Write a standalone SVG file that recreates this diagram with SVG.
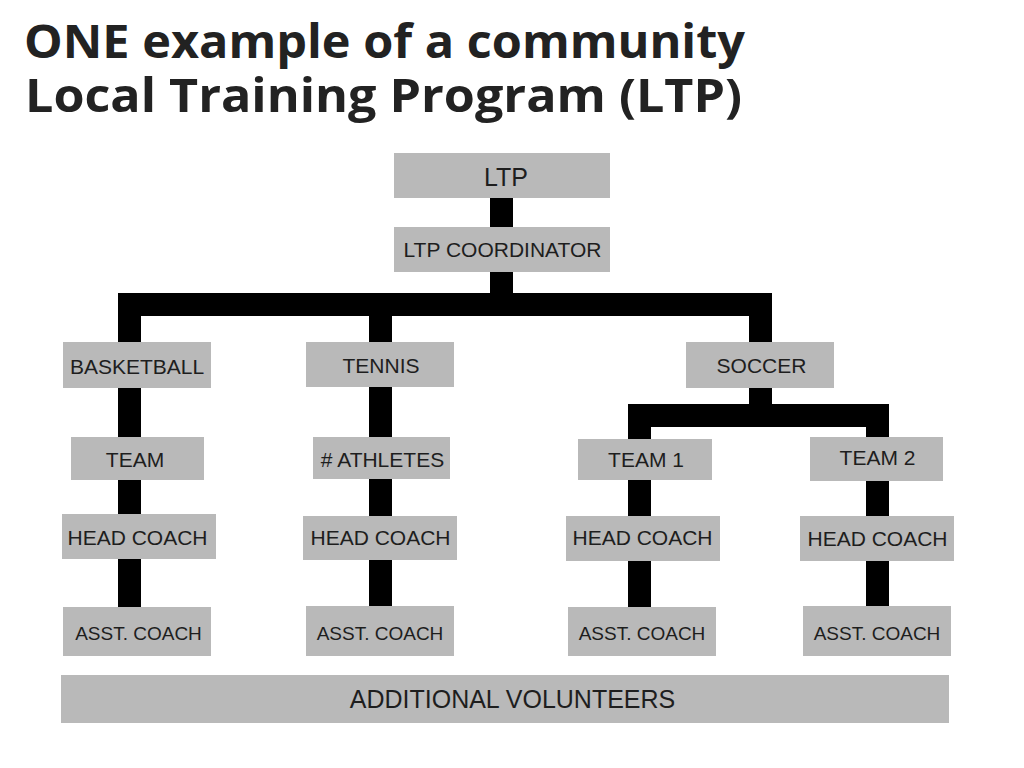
<svg xmlns="http://www.w3.org/2000/svg" width="1024" height="768" viewBox="0 0 1024 768">
<style>
.bg{fill:#ffffff}
.title{font-family:"Open Sans","Liberation Sans",sans-serif;font-weight:700;font-size:47px;fill:#222222}
.box{fill:#b9b9b9}
.lbl{font-family:"Liberation Sans",Arial,sans-serif;font-size:21px;fill:#1e1e1e;text-anchor:middle}
.sm{font-size:19px}
.big{font-size:25px}
.conn{fill:none;stroke:#000000;stroke-width:23;stroke-linejoin:miter;stroke-linecap:butt}
</style>
<rect class="bg" x="0" y="0" width="1024" height="768"/>
<g id="title">
<text class="title" x="24" y="58" textLength="721" lengthAdjust="spacingAndGlyphs">ONE example of a community</text>
<text class="title" x="25" y="112" textLength="717" lengthAdjust="spacingAndGlyphs">Local Training Program (LTP)</text>
</g>
<g id="connectors">
<path class="conn" d="M501.5,198 V304.5"/>
<path class="conn" d="M129.5,607 V304.5 H760.5 V416"/>
<path class="conn" d="M380.5,304.5 V606"/>
<path class="conn" d="M639.5,607 V415.5 H877.5 V606"/>
</g>
<g id="n-ltp"><rect class="box" x="394" y="153" width="216" height="45"/><text class="lbl big" x="506" y="186">LTP</text></g>
<g id="n-coord"><rect class="box" x="394" y="227" width="216" height="45"/><text class="lbl" x="502.5" y="257" font-size="19.5">LTP COORDINATOR</text></g>
<g id="n-basketball"><rect class="box" x="63" y="342" width="148" height="46"/><text class="lbl" x="137" y="374">BASKETBALL</text></g>
<g id="n-tennis"><rect class="box" x="306" y="342" width="148" height="45"/><text class="lbl" x="381" y="373">TENNIS</text></g>
<g id="n-soccer"><rect class="box" x="686" y="342" width="148" height="46"/><text class="lbl" x="761.5" y="373">SOCCER</text></g>
<g id="n-team"><rect class="box" x="71" y="437" width="133" height="43"/><text class="lbl" x="135" y="467">TEAM</text></g>
<g id="n-athletes"><rect class="box" x="313" y="437" width="137" height="42"/><text class="lbl" x="382.5" y="467"># ATHLETES</text></g>
<g id="n-team1"><rect class="box" x="578" y="439" width="134" height="41"/><text class="lbl" x="646" y="467">TEAM 1</text></g>
<g id="n-team2"><rect class="box" x="810" y="437" width="133" height="44"/><text class="lbl" x="877.5" y="465">TEAM 2</text></g>
<g id="n-hc1"><rect class="box" x="62" y="514" width="154" height="45"/><text class="lbl" x="137.5" y="545">HEAD COACH</text></g>
<g id="n-hc2"><rect class="box" x="303" y="516" width="154" height="44"/><text class="lbl" x="380.5" y="545">HEAD COACH</text></g>
<g id="n-hc3"><rect class="box" x="566" y="516" width="154" height="45"/><text class="lbl" x="642.5" y="545">HEAD COACH</text></g>
<g id="n-hc4"><rect class="box" x="800" y="516" width="154" height="45"/><text class="lbl" x="877.5" y="546">HEAD COACH</text></g>
<g id="n-ac1"><rect class="box" x="63" y="607" width="148" height="49"/><text class="lbl sm" x="138.5" y="640">ASST. COACH</text></g>
<g id="n-ac2"><rect class="box" x="306" y="606" width="148" height="50"/><text class="lbl sm" x="380" y="640">ASST. COACH</text></g>
<g id="n-ac3"><rect class="box" x="568" y="607" width="148" height="49"/><text class="lbl sm" x="642" y="640">ASST. COACH</text></g>
<g id="n-ac4"><rect class="box" x="803" y="606" width="148" height="50"/><text class="lbl sm" x="877" y="640">ASST. COACH</text></g>
<g id="n-volunteers"><rect class="box" x="61" y="675" width="888" height="48"/><text class="lbl big" x="512.5" y="708">ADDITIONAL VOLUNTEERS</text></g>
</svg>
